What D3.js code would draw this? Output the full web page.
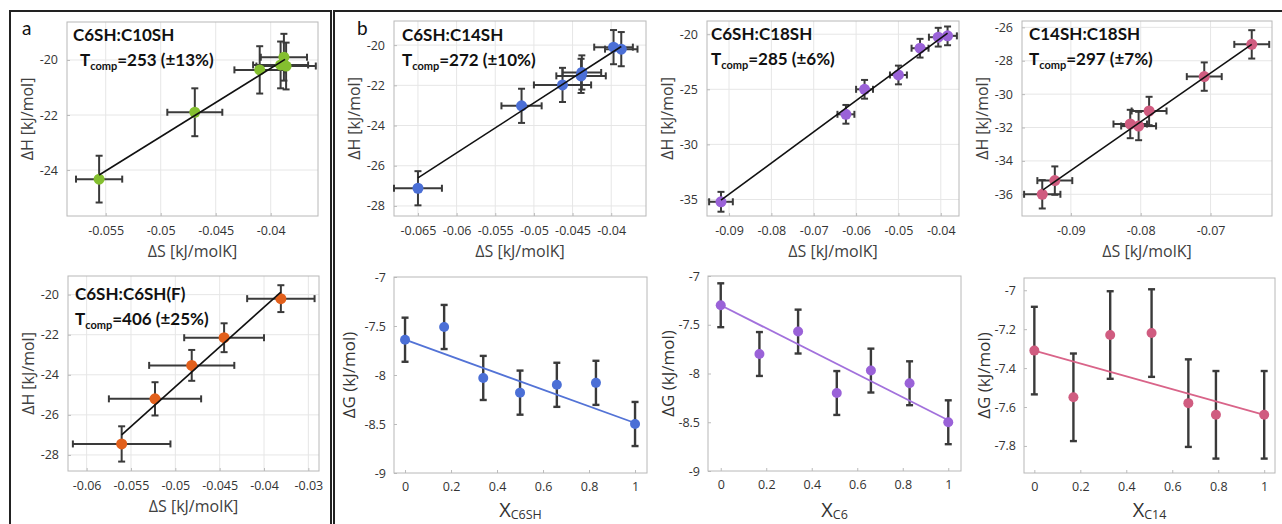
<!DOCTYPE html>
<html>
<head>
<meta charset="utf-8">
<script src="https://cdn.jsdelivr.net/npm/d3@7"></script>
<style>
  body { margin: 0; background: #fff; }
  svg { display: block; }
</style>
</head>
<body>
<div id="container"></div>
<script>
// ---- data ----

// a, top: C6SH:C10SH
const dS_C10 = [-0.0556, -0.0469, -0.0410, -0.0388, -0.0391, -0.0386];
const dH_C10 = [-24.33, -21.90, -20.36, -19.90, -20.18, -20.22];
const dSerr_C10 = [0.0021, 0.0025, 0.0023, 0.0021, 0.0025, 0.0027];
const dHerr_C10 = [0.85, 0.87, 0.86, 0.85, 0.85, 0.85];
const fit_C10 = [[-0.0556, -24.18], [-0.0387, -19.98]];

// a, bottom: C6SH:C6SH(F)
const dS_C6F = [-0.05605, -0.05229, -0.04815, -0.0445, -0.0381];
const dH_C6F = [-27.45, -25.20, -23.53, -22.15, -20.20];
const dSerr_C6F = [0.0055, 0.0052, 0.0048, 0.0045, 0.0038];
const dHerr_C6F = [0.88, 0.83, 0.77, 0.72, 0.67];
const fit_C6F = [[-0.05605, -27.0], [-0.0381, -19.87]];

// b, top: C6SH:C14SH
const dS_C14 = [-0.0650, -0.0516, -0.0463, -0.0439, -0.0438, -0.0397, -0.0387];
const dH_C14 = [-27.12, -23.02, -21.98, -21.53, -21.36, -20.10, -20.20];
const dSerr_C14 = [0.0031, 0.0026, 0.0037, 0.0032, 0.0025, 0.0025, 0.0021];
const dHerr_C14 = [0.85, 0.85, 0.85, 0.85, 0.85, 0.85, 0.85];
const fit_C14 = [[-0.0650, -26.6], [-0.0387, -20.07]];

// b, top: C6SH:C18SH
const dS_C18 = [-0.0919, -0.0624, -0.0580, -0.0500, -0.0449, -0.0406, -0.0384];
const dH_C18 = [-35.21, -27.27, -25.00, -23.70, -21.27, -20.27, -20.15];
const dSerr_C18 = [0.0028, 0.0020, 0.0020, 0.0020, 0.0020, 0.0022, 0.0022];
const dHerr_C18 = [0.90, 0.85, 0.85, 0.85, 0.85, 0.85, 0.85];
const fit_C18 = [[-0.0919, -35.06], [-0.0384, -19.9]];

// b, top: C14SH:C18SH
const dS_C14C18 = [-0.0941, -0.0923, -0.0815, -0.0803, -0.0788, -0.0709, -0.0641];
const dH_C14C18 = [-36.00, -35.18, -31.79, -31.91, -31.01, -28.95, -27.02];
const dSerr_C14C18 = [0.0026, 0.0025, 0.0024, 0.0025, 0.0025, 0.0025, 0.0025];
const dHerr_C14C18 = [0.85, 0.85, 0.85, 0.85, 0.85, 0.85, 0.85];
const fit_C14C18 = [[-0.0940, -35.74], [-0.0641, -27.02]];

// b, bottom: free energy vs mole fraction
const xFrac_C6SH = [0, 0.17, 0.34, 0.5, 0.66, 0.83, 1];
const dG_C6SH = [-7.64, -7.51, -8.03, -8.18, -8.10, -8.08, -8.50];
const fit_C6SH = [[0, -7.64], [1, -8.49]];

const xFrac_C6 = [0, 0.17, 0.34, 0.51, 0.66, 0.83, 1];
const dG_C6 = [-7.30, -7.80, -7.57, -8.20, -7.97, -8.10, -8.50];
const fit_C6 = [[0, -7.30], [1, -8.48]];

const xFrac_C14 = [0, 0.17, 0.33, 0.51, 0.67, 0.79, 1];
const dG_C14 = [-7.31, -7.55, -7.23, -7.22, -7.58, -7.64, -7.64];
const fit_C14frac = [[0, -7.31], [1, -7.64]];

const dGerr = 0.225;

// tick values / labels
const xTicks_C10 = [-0.055, -0.05, -0.045, -0.04];
const yTicks_C10 = [-24, -22, -20];
const xTicks_C6F = [-0.06, -0.055, -0.05, -0.045, -0.04, -0.035];
const xTickLabels_C6F = ["-0.06", "-0.055", "-0.05", "-0.045", "-0.04", "-0.03"];
const yTicks_C6F = [-28, -26, -24, -22, -20];
const xTicks_C14 = [-0.065, -0.06, -0.055, -0.05, -0.045, -0.04];
const yTicks_C14 = [-28, -26, -24, -22, -20];
const xTicks_C18 = [-0.09, -0.08, -0.07, -0.06, -0.05, -0.04];
const yTicks_C18 = [-35, -30, -25, -20];
const xTicks_C14C18 = [-0.09, -0.08, -0.07];
const yTicks_C14C18 = [-36, -34, -32, -30, -28, -26];
const xTicks_frac = [0, 0.2, 0.4, 0.6, 0.8, 1];
const yTicks_dG = [-9, -8.5, -8, -7.5, -7];
const yTicks_dG14 = [-7.8, -7.6, -7.4, -7.2, -7];

// ---- layout ----
const W = 1282, H = 524;
const svg = d3.select("#container").append("svg")
  .attr("width", W).attr("height", H)
  .style("font-family", "'Open Sans', 'Liberation Sans', sans-serif");

// outer panel frames
svg.append("path")
  .attr("d", "M10,530 V11 H331 V530")
  .attr("fill", "none").attr("stroke", "#222").attr("stroke-width", 2);
svg.append("path")
  .attr("d", "M334,530 V11 H1290")
  .attr("fill", "none").attr("stroke", "#222").attr("stroke-width", 2);

svg.append("text").attr("x", 22).attr("y", 35).text("a")
  .attr("font-size", 19).attr("fill", "#111").style("font-family", "Lato, sans-serif");
svg.append("text").attr("x", 357).attr("y", 35).text("b")
  .attr("font-size", 19).attr("fill", "#111").style("font-family", "Lato, sans-serif");

function pts(xs, ys, xe, ye) {
  return xs.map((x, i) => ({
    x: x, y: ys[i],
    xe: xe ? xe[i] : 0,
    ye: Array.isArray(ye) ? ye[i] : ye
  }));
}

const hsPanels = [
  { box: [67, 318, 22, 216], xd: [-0.05852, -0.0357], yd: [-25.67, -18.62],
    xt: xTicks_C10, yt: yTicks_C10, color: "#84bf2f",
    data: pts(dS_C10, dH_C10, dSerr_C10, dHerr_C10), fit: fit_C10,
    title: "C6SH:C10SH", t: "253 (±13%)", tx: 73, ty: 41, tIndent: 7 },
  { box: [68, 319, 276, 471], xd: [-0.0621, -0.0338], yd: [-28.8, -19.07],
    xt: xTicks_C6F, xl: xTickLabels_C6F, yt: yTicks_C6F, color: "#e2601c",
    data: pts(dS_C6F, dH_C6F, dSerr_C6F, dHerr_C6F), fit: fit_C6F,
    title: "C6SH:C6SH(F)", t: "406 (±25%)", tx: 75, ty: 300, tIndent: 0 },
  { box: [394, 646, 21, 216], xd: [-0.0681, -0.0355], yd: [-28.5, -18.8],
    xt: xTicks_C14, yt: yTicks_C14, color: "#4b6fd6",
    data: pts(dS_C14, dH_C14, dSerr_C14, dHerr_C14), fit: fit_C14,
    title: "C6SH:C14SH", t: "272 (±10%)", tx: 402, ty: 41, tIndent: 0 },
  { box: [707, 959, 21, 216], xd: [-0.0952, -0.0357], yd: [-36.5, -18.8],
    xt: xTicks_C18, yt: yTicks_C18, color: "#9a62d8",
    data: pts(dS_C18, dH_C18, dSerr_C18, dHerr_C18), fit: fit_C18,
    title: "C6SH:C18SH", t: "285 (±6%)", tx: 711, ty: 40, tIndent: 0 },
  { box: [1022, 1272, 21, 216], xd: [-0.097, -0.0612], yd: [-37.3, -25.62],
    xt: xTicks_C14C18, yt: yTicks_C14C18, color: "#d05c80",
    data: pts(dS_C14C18, dH_C14C18, dSerr_C14C18, dHerr_C14C18), fit: fit_C14C18,
    title: "C14SH:C18SH", t: "297 (±7%)", tx: 1029, ty: 40, tIndent: 0 }
];

const gPanels = [
  { box: [394, 647, 277, 473], xd: [-0.048, 1.052], yd: [-9, -7],
    xt: xTicks_frac, yt: yTicks_dG, color: "#4b6fd6", line: "#5373d6",
    data: pts(xFrac_C6SH, dG_C6SH, null, dGerr), fit: fit_C6SH, sub: "C6SH", ylabOff: 39 },
  { box: [708, 961, 276, 471], xd: [-0.056, 1.056], yd: [-9, -7],
    xt: xTicks_frac, yt: yTicks_dG, color: "#9a62d8", line: "#a271dc",
    data: pts(xFrac_C6, dG_C6, null, dGerr), fit: fit_C6, sub: "C6", ylabOff: 34 },
  { box: [1024, 1275, 278, 473], xd: [-0.045, 1.047], yd: [-7.939, -6.937],
    xt: xTicks_frac, yt: yTicks_dG14, color: "#d05c80", line: "#d96489",
    data: pts(xFrac_C14, dG_C14, null, dGerr), fit: fit_C14frac, sub: "C14", ylabOff: 34 }
];

function drawPanel(p, opts) {
  const [x0, x1, y0, y1] = p.box;
  const x = d3.scaleLinear().domain(p.xd).range([x0, x1]);
  const y = d3.scaleLinear().domain(p.yd).range([y1, y0]);
  const g = svg.append("g");

  // plot background + grid
  g.append("rect").attr("x", x0).attr("y", y0).attr("width", x1 - x0).attr("height", y1 - y0)
    .attr("fill", "#fff");
  if (opts.grid) {
    g.selectAll(".gx").data(p.xt).enter().append("line")
      .attr("x1", d => x(d)).attr("x2", d => x(d)).attr("y1", y0).attr("y2", y1)
      .attr("stroke", "#e6e6e6").attr("stroke-width", 1);
    g.selectAll(".gy").data(p.yt).enter().append("line")
      .attr("y1", d => y(d)).attr("y2", d => y(d)).attr("x1", x0).attr("x2", x1)
      .attr("stroke", "#e6e6e6").attr("stroke-width", 1);
  }

  // axes (small inward ticks, MATLAB-ish)
  const fmtX = p.xl ? ((d, i) => p.xl[i]) : (d => String(d));
  const xAxis = g.append("g").attr("transform", `translate(0,${y1})`)
    .call(d3.axisBottom(x).tickValues(p.xt).tickFormat(fmtX).tickSizeInner(-3).tickSizeOuter(0).tickPadding(opts.xPad));
  const yAxis = g.append("g").attr("transform", `translate(${x0},0)`)
    .call(d3.axisLeft(y).tickValues(p.yt).tickFormat(d => String(d)).tickSizeInner(-3).tickSizeOuter(0).tickPadding(opts.yPad));
  [xAxis, yAxis].forEach(a => {
    a.select(".domain").remove();
    a.selectAll(".tick line").attr("stroke", "#bbb");
    a.selectAll("text").attr("font-size", opts.tickSize).attr("fill", "#333")
      .style("font-family", opts.tickFont);
  });
  g.append("rect").attr("x", x0).attr("y", y0).attr("width", x1 - x0).attr("height", y1 - y0)
    .attr("fill", "none").attr("stroke", "#b8b8b8").attr("stroke-width", 1);

  // error bars
  const eb = g.append("g").attr("stroke", "#3a3a3a").attr("stroke-width", opts.ebw).attr("fill", "none");
  const cap = 3.5;
  p.data.forEach(d => {
    const cx = x(d.x), cy = y(d.y);
    const ya = y(d.y + d.ye), yb = y(d.y - d.ye);
    eb.append("line").attr("x1", cx).attr("x2", cx).attr("y1", ya).attr("y2", yb);
    eb.append("line").attr("x1", cx - cap).attr("x2", cx + cap).attr("y1", ya).attr("y2", ya);
    eb.append("line").attr("x1", cx - cap).attr("x2", cx + cap).attr("y1", yb).attr("y2", yb);
    if (d.xe) {
      const xa = x(d.x - d.xe), xb = x(d.x + d.xe);
      eb.append("line").attr("x1", xa).attr("x2", xb).attr("y1", cy).attr("y2", cy);
      eb.append("line").attr("x1", xa).attr("x2", xa).attr("y1", cy - cap).attr("y2", cy + cap);
      eb.append("line").attr("x1", xb).attr("x2", xb).attr("y1", cy - cap).attr("y2", cy + cap);
    }
  });

  const lineGen = d3.line().x(d => x(d[0])).y(d => y(d[1]));
  if (!opts.lineOnTop) {
    g.append("path").attr("d", lineGen(p.fit)).attr("fill", "none")
      .attr("stroke", p.line).attr("stroke-width", 1.8);
  }
  g.selectAll(".pt").data(p.data).enter().append("circle")
    .attr("cx", d => x(d.x)).attr("cy", d => y(d.y)).attr("r", opts.r)
    .attr("fill", p.color);
  if (opts.lineOnTop) {
    g.append("path").attr("d", lineGen(p.fit)).attr("fill", "none")
      .attr("stroke", "#111").attr("stroke-width", 1.6);
  }
  return { x, y };
}

// enthalpy-entropy panels
hsPanels.forEach(p => {
  drawPanel(p, { grid: true, lineOnTop: true, r: 5.5, ebw: 2, tickSize: 12.5,
    tickFont: "'Open Sans', sans-serif", xPad: 10, yPad: 9 });
  const [x0, x1, y0, y1] = p.box;
  const cx = (x0 + x1) / 2, cy = (y0 + y1) / 2;
  svg.append("text").attr("x", cx).attr("y", y1 + 41).attr("text-anchor", "middle")
    .attr("font-size", 16).attr("fill", "#404040").text("ΔS [kJ/molK]");
  svg.append("text").attr("transform", `translate(${x0 - 34},${cy}) rotate(-90)`)
    .attr("text-anchor", "middle").attr("font-size", 16).attr("fill", "#404040")
    .text("ΔH [kJ/mol]");

  const ann = svg.append("g").style("font-family", "Lato, 'Open Sans', sans-serif")
    .attr("font-weight", "bold").attr("fill", "#111");
  ann.append("text").attr("x", p.tx).attr("y", p.ty).attr("font-size", 17).text(p.title);
  const t = ann.append("text").attr("x", p.tx + p.tIndent).attr("y", p.ty + 25).attr("font-size", 17);
  t.append("tspan").text("T");
  t.append("tspan").attr("font-size", 11).attr("dy", 4).text("comp");
  t.append("tspan").attr("dy", -4).text("=" + p.t);
});

// free-energy panels
gPanels.forEach(p => {
  drawPanel(p, { grid: false, lineOnTop: false, r: 5, ebw: 2.4, tickSize: 12.5,
    tickFont: "'Open Sans', sans-serif", xPad: 9, yPad: 8 });
  const [x0, x1, y0, y1] = p.box;
  const cx = (x0 + x1) / 2, cy = (y0 + y1) / 2;
  svg.append("text").attr("transform", `translate(${x0 - p.ylabOff},${cy}) rotate(-90)`)
    .attr("text-anchor", "middle").attr("font-size", 17).attr("fill", "#333")
    .text("ΔG (kJ/mol)");
  const xl = svg.append("text").attr("x", cx).attr("y", 517).attr("text-anchor", "middle")
    .attr("fill", "#333");
  xl.append("tspan").attr("font-size", 20).text("X");
  xl.append("tspan").attr("font-size", 12.5).attr("dy", 2).text(p.sub);
});
</script>
</body>
</html>
